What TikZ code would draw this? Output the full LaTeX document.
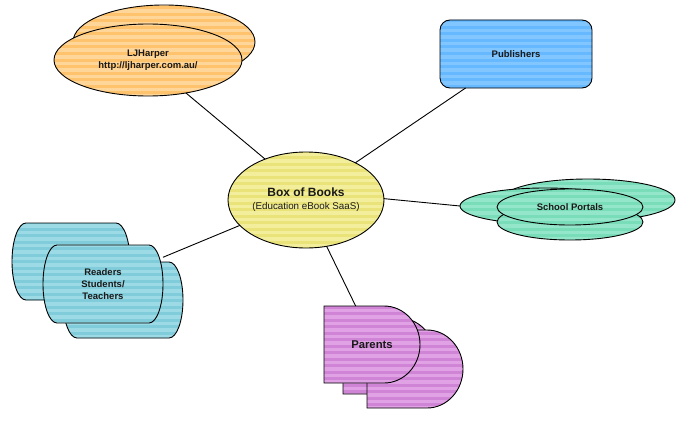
\documentclass[tikz,border=0pt]{standalone}
\usepackage{fontspec}
\setmainfont{Liberation Sans}
\usetikzlibrary{shapes.geometric}
\definecolor{orA}{HTML}{FFD699}
\definecolor{orB}{HTML}{FFC36E}
\definecolor{blA}{HTML}{82C6FF}
\definecolor{blB}{HTML}{66B8FF}
\definecolor{yeA}{HTML}{F2EE9C}
\definecolor{yeB}{HTML}{EAE37A}
\definecolor{mnA}{HTML}{94E6CA}
\definecolor{mnB}{HTML}{7ADDB9}
\definecolor{tlA}{HTML}{9CDAE6}
\definecolor{tlB}{HTML}{80CCDA}
\definecolor{puA}{HTML}{E0A2E4}
\definecolor{puB}{HTML}{D084D6}
\tikzset{
  shp/.style={draw=black, line width=0.9pt},
  lbl/.style={font=\fontsize{9.5}{12}\selectfont\bfseries, align=center, text=black!90},
  conn/.style={draw=black, line width=0.9pt},
  plain/.style={inner sep=0pt, outer sep=0pt},
}
\newcommand\stripedpath[3]{%
  \begin{scope}
    \clip #1;
    \fill[#2] (0,0) rectangle (687,420);
    \foreach \yy in {0,6.5,...,420} \fill[#3] (0,\yy) rectangle (687,\yy+3);
  \end{scope}
  \draw[shp] #1;
}
\begin{document}
\begin{tikzpicture}[x=1pt,y=-1pt]
\useasboundingbox (0,0) rectangle (687,420);
\fill[white] (0,0) rectangle (687,420);

% ---------- LJHarper ----------
\stripedpath{(164,42) ellipse [x radius=91, y radius=37]}{orA}{orB}
\stripedpath{(148,60) ellipse [x radius=94, y radius=36]}{orA}{orB}
\node[ellipse, plain, minimum width=188pt, minimum height=72pt, lbl] (lj) at (148,60) {LJHarper\\http://ljharper.com.au/};

% ---------- Publishers ----------
\stripedpath{[rounded corners=10pt] (440,20) rectangle (592,88)}{blA}{blB}
\node[rectangle, plain, minimum width=152pt, minimum height=68pt, lbl] (pub) at (516,54) {Publishers};

% ---------- Box of Books ----------
\stripedpath{(306,200) ellipse [x radius=78, y radius=48]}{yeA}{yeB}
\node[ellipse, plain, minimum width=156pt, minimum height=96pt, align=center, text=black!90] (box) at (306,200)
  {{\fontsize{12}{14}\selectfont\bfseries Box of Books}\\[1pt]{\fontsize{9.8}{11}\selectfont (Education eBook SaaS)}};

% ---------- School Portals ----------
\stripedpath{(588,200) ellipse [x radius=87, y radius=21]}{mnA}{mnB}
\stripedpath{(545,206) ellipse [x radius=85, y radius=18]}{mnA}{mnB}
\stripedpath{(570,222) ellipse [x radius=73, y radius=18]}{mnA}{mnB}
\stripedpath{(570,207) ellipse [x radius=73, y radius=18]}{mnA}{mnB}
\node[ellipse, plain, minimum width=170pt, minimum height=36pt] (sp2) at (545,206) {};
\node[ellipse, plain, minimum width=146pt, minimum height=36pt, lbl] (sp) at (570,207) {School Portals};

% ---------- Readers ----------
\stripedpath{(26,223) -- (116,223) arc[start angle=-90,end angle=90,x radius=14,y radius=38.5]
  -- (26,300) arc[start angle=90,end angle=270,x radius=14,y radius=38.5] -- cycle}{tlA}{tlB}
\stripedpath{(77,262) -- (169,262) arc[start angle=-90,end angle=90,x radius=14,y radius=38]
  -- (77,338) arc[start angle=90,end angle=270,x radius=14,y radius=38] -- cycle}{tlA}{tlB}
\stripedpath{(57,245) -- (149,245) arc[start angle=-90,end angle=90,x radius=14,y radius=39]
  -- (57,323) arc[start angle=90,end angle=270,x radius=14,y radius=39] -- cycle}{tlA}{tlB}
\node[rectangle, plain, minimum width=120pt, minimum height=78pt, lbl] (rd) at (103,284) {Readers\\Students/\\Teachers};

% ---------- Parents ----------
\stripedpath{(343,318) -- (399,318) arc[start angle=-90,end angle=90,x radius=36,y radius=38] -- (343,394) -- cycle}{puA}{puB}
\stripedpath{(367,330) -- (427,330) arc[start angle=-90,end angle=90,x radius=36,y radius=39] -- (367,408) -- cycle}{puA}{puB}
\stripedpath{(324,306) -- (384,306) arc[start angle=-90,end angle=90,x radius=36,y radius=38.5] -- (324,383) -- cycle}{puA}{puB}
\node[rectangle, plain, minimum width=96pt, minimum height=77pt, font=\fontsize{11.3}{13}\selectfont\bfseries, text=black!90] (par) at (372,344.5) {Parents};

% ---------- connectors ----------
\draw[conn] (box.135) -- (lj.-41);
\draw[conn] (box.37.6) -- (pub.214);
\draw[conn] (box.1) -- (sp2.west);
\draw[conn] (box.201) -- (rd.24.5);
\draw[conn] (box.294) -- (par.113.8);
\end{tikzpicture}
\end{document}
